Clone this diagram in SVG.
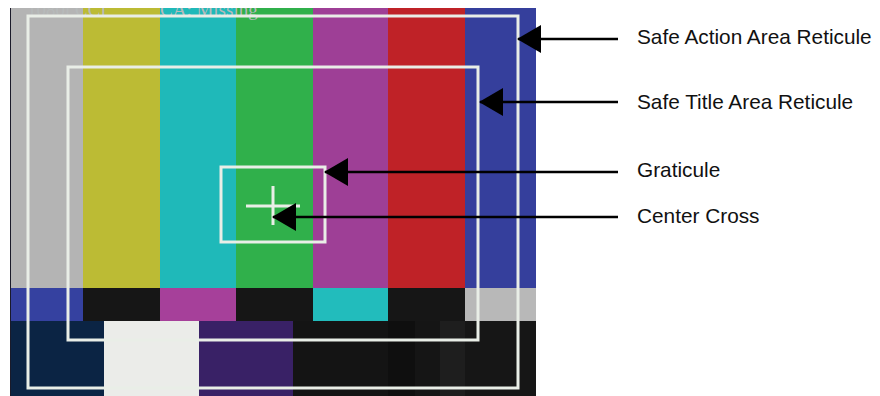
<svg xmlns="http://www.w3.org/2000/svg" width="880" height="396" viewBox="0 0 880 396">
  <style>
    .ret { fill: none; stroke: #e9eee7; stroke-width: 3; }
    .lbl { font-family: "Liberation Sans", Arial, sans-serif; font-size: 20.8px; fill: #111; }
    .osd { font-family: "Liberation Serif", "Times New Roman", serif; font-size: 19px; fill: #b6baba; }
    .conn { stroke: #000; stroke-width: 2.5; fill: none; marker-end: url(#ah); }
  </style>
  <defs>
    <marker id="ah" markerUnits="userSpaceOnUse" markerWidth="24" markerHeight="28" viewBox="0 0 24 28" refX="23" refY="14" orient="auto">
      <path d="M0,0 L24,14 L0,28 Z" fill="#000"/>
    </marker>
    <clipPath id="pic"><rect x="10" y="8" width="526" height="388"/></clipPath>
  </defs>
  <rect width="880" height="396" fill="#fff"/>

  <g id="test-pattern" clip-path="url(#pic)">
    <!-- top bars -->
    <rect x="10" y="8" width="73" height="280" fill="#b4b4b4"/>
    <rect x="83" y="8" width="77" height="280" fill="#bcbb34"/>
    <rect x="160" y="8" width="76" height="280" fill="#1fb9b9"/>
    <rect x="236" y="8" width="77" height="280" fill="#30b04b"/>
    <rect x="313" y="8" width="75" height="280" fill="#9e3f96"/>
    <rect x="388" y="8" width="77" height="280" fill="#bf2227"/>
    <rect x="465" y="8" width="71" height="280" fill="#353f9c"/>
    <!-- middle bars -->
    <rect x="10" y="288" width="73" height="33" fill="#3541a0"/>
    <rect x="83" y="288" width="77" height="33" fill="#161616"/>
    <rect x="160" y="288" width="76" height="33" fill="#a6409a"/>
    <rect x="236" y="288" width="77" height="33" fill="#161616"/>
    <rect x="313" y="288" width="75" height="33" fill="#22bcbc"/>
    <rect x="388" y="288" width="77" height="33" fill="#161616"/>
    <rect x="465" y="288" width="71" height="33" fill="#b8b8b8"/>
    <!-- bottom bars -->
    <rect x="10" y="321" width="94" height="75" fill="#0b2444"/>
    <rect x="104" y="321" width="95" height="75" fill="#ebece9"/>
    <rect x="199" y="321" width="94" height="75" fill="#392166"/>
    <rect x="293" y="321" width="95" height="75" fill="#141414"/>
    <rect x="388" y="321" width="27" height="75" fill="#0f0f0f"/>
    <rect x="415" y="321" width="25" height="75" fill="#151515"/>
    <rect x="440" y="321" width="25" height="75" fill="#1e1e1e"/>
    <rect x="465" y="321" width="71" height="75" fill="#161616"/>
    <line x1="10.5" y1="8" x2="10.5" y2="396" stroke="#1a1a2a" stroke-width="1"/>
    <!-- on-screen text -->
    <text class="osd" x="27" y="16">1080i CCI</text>
    <text class="osd" x="160" y="16">CA: Missing</text>
  </g>

  <g id="safe-action-reticule"><rect class="ret" x="28" y="16" width="490" height="372"/></g>
  <g id="safe-title-reticule"><rect class="ret" x="68" y="67" width="410" height="273"/></g>
  <g id="graticule"><rect class="ret" x="221" y="167" width="104" height="75"/></g>
  <g id="center-cross">
    <line x1="246" y1="206" x2="300" y2="206" stroke="#e9eee7" stroke-width="3"/>
    <line x1="273" y1="186" x2="273" y2="225" stroke="#e9eee7" stroke-width="3"/>
  </g>

  <g id="connectors">
    <line class="conn" x1="618" y1="39" x2="518" y2="39"/>
    <line class="conn" x1="618" y1="102" x2="480" y2="102"/>
    <line class="conn" x1="618" y1="172" x2="325" y2="172"/>
    <line class="conn" x1="618" y1="217" x2="273" y2="217"/>
  </g>

  <g id="label-safe-action"><text class="lbl" x="637" y="44">Safe Action Area Reticule</text></g>
  <g id="label-safe-title"><text class="lbl" x="637" y="109">Safe Title Area Reticule</text></g>
  <g id="label-graticule"><text class="lbl" x="637" y="177">Graticule</text></g>
  <g id="label-center-cross"><text class="lbl" x="637" y="223">Center Cross</text></g>
</svg>
